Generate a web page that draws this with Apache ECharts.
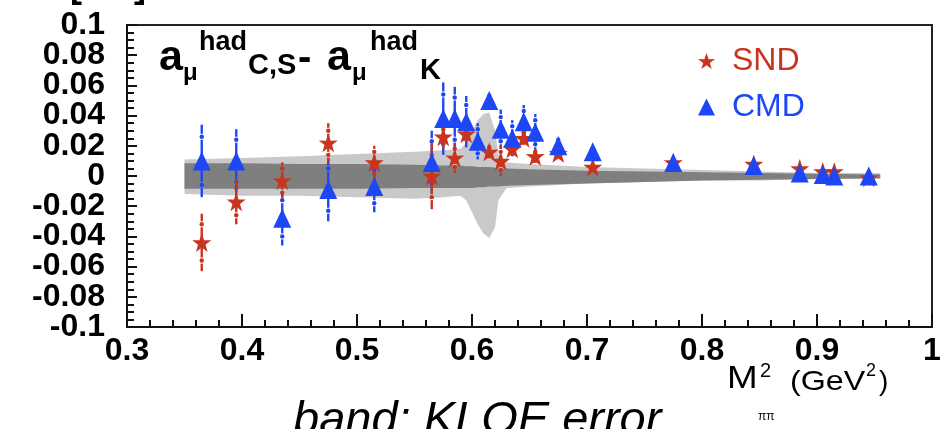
<!DOCTYPE html>
<html>
<head>
<meta charset="utf-8">
<script src="https://cdn.jsdelivr.net/npm/echarts@6/dist/echarts.min.js"></script>
<style>html,body{margin:0;padding:0;background:#fff;}#c{width:945px;height:429px;}</style>
</head>
<body>
<div id="c"></div>
<script>
// ---- data ----
var sndX = [0.365,0.395,0.435,0.475,0.515,0.565,0.575,0.585,0.595,0.615,0.625,0.635,0.645,0.655,0.675,0.705,0.775,0.845,0.885,0.905,0.915,0.945];
var sndY = [-0.044,-0.017,-0.003,0.022,0.009,0.000,0.026,0.012,0.028,0.016,0.010,0.018,0.025,0.013,0.015,0.006,0.009,0.008,0.005,0.003,0.003,-0.001];
var sndErrTot = [0.019,0.015,0.012,0.013,0.011,0.022,0.008,0.010,0.006,0.005,0.010,0.005,0.005,0.005,0.003,0.002,0.002,0.002,0.002,0.001,0.001,0.001];
var sndErrStat = [0.012,0.009,0.008,0.008,0.007,0.014,0.005,0.006,0.004,0.003,0.006,0.003,0.003,0.003,0.002,0.001,0.001,0.001,0.001,0.001,0.001,0.001];

var cmdX = [0.365,0.395,0.435,0.475,0.515,0.565,0.575,0.585,0.595,0.605,0.615,0.625,0.635,0.645,0.655,0.675,0.705,0.775,0.845,0.885,0.905,0.915,0.945];
var cmdY = [0.010,0.010,-0.028,-0.009,-0.007,0.009,0.038,0.038,0.036,0.023,0.050,0.031,0.025,0.036,0.029,0.020,0.016,0.009,0.007,0.002,0.001,0.000,0.000];
var cmdErrTot = [0.024,0.021,0.018,0.021,0.017,0.021,0.024,0.021,0.017,0.012,0.004,0.013,0.012,0.011,0.012,0.006,0.003,0.002,0.002,0.001,0.001,0.001,0.001];
var cmdErrStat = [0.016,0.014,0.012,0.014,0.011,0.014,0.016,0.014,0.011,0.008,0.003,0.008,0.008,0.007,0.008,0.004,0.002,0.001,0.001,0.001,0.001,0.001,0.001];

// KLOE error band
var bandX =        [0.35,  0.40,  0.45,  0.50,  0.55,  0.575, 0.59,  0.595, 0.60,  0.605, 0.61,  0.615, 0.62,  0.623, 0.63,  0.65,  0.70,  0.75,  0.80,  0.85,  0.90,  0.955];
var lightUpper =   [0.011, 0.012, 0.013, 0.0145,0.016, 0.017, 0.018, 0.022, 0.030, 0.037, 0.041, 0.042, 0.030, 0.014, 0.009, 0.008, 0.006, 0.005, 0.004, 0.003, 0.002, 0.002];
var lightLower =   [-0.012,-0.013,-0.013,-0.014,-0.015,-0.014,-0.013,-0.016,-0.024,-0.032,-0.038,-0.041,-0.034,-0.016,-0.008,-0.007,-0.005,-0.004,-0.003,-0.003,-0.002,-0.002];
var darkUpper =    [0.0085,0.0085,0.008, 0.008, 0.0075,0.007, 0.007, 0.0065,0.0065,0.006, 0.006, 0.006, 0.0055,0.005, 0.005, 0.0045,0.0035,0.003, 0.0025,0.002, 0.0015,0.001];
var darkLower =    [-0.0085,-0.0085,-0.0085,-0.0085,-0.008,-0.008,-0.008,-0.008,-0.008,-0.0075,-0.0075,-0.007,-0.007,-0.007,-0.0065,-0.006,-0.005,-0.004,-0.003,-0.0025,-0.002,-0.0015];

var RED = '#c9341f', BLUE = '#1d47f5';
var STAR = 'path://M50,0 L61.8,35.1 L97.6,34.5 L68.8,55.9 L79.4,90.5 L50,69.5 L20.6,90.5 L31.2,55.9 L2.4,34.5 L38.2,35.1 Z';

function errData(xs, ys, et, es){ return xs.map(function(x,i){ return [x, ys[i], et[i], es[i]]; }); }

function errRender(color){
  return function(params, api){
    var x = api.value(0), y = api.value(1), et = api.value(2), es = api.value(3);
    var c = api.coord([x, y]);
    var sT = api.coord([x, y + es]), sB = api.coord([x, y - es]);
    var tT = api.coord([x, y + et]), tB = api.coord([x, y - et]);
    var st = {stroke: color, lineWidth: 2.4};
    var ch = [];
    ch.push({type:'line', shape:{x1:c[0], y1:sT[1]+3, x2:c[0], y2:sB[1]-3}, style: st});
    if (tT[1] < sT[1]-4) ch.push({type:'line', shape:{x1:c[0], y1:tT[1], x2:c[0], y2:sT[1]-3}, style: st});
    if (tB[1] > sB[1]+4) ch.push({type:'line', shape:{x1:c[0], y1:sB[1]+3, x2:c[0], y2:tB[1]}, style: st});
    ch.push({type:'circle', shape:{cx:c[0], cy:sT[1], r:2.2}, style:{fill: color}});
    ch.push({type:'circle', shape:{cx:c[0], cy:sB[1], r:2.2}, style:{fill: color}});
    return {type:'group', children: ch};
  };
}

function bandRender(up, lo, color){
  return function(params, api){
    var pts = [];
    for (var i=0;i<bandX.length;i++) pts.push(api.coord([bandX[i], up[i]]));
    for (var j=bandX.length-1;j>=0;j--) pts.push(api.coord([bandX[j], lo[j]]));
    return {type:'polygon', shape:{points: pts}, style:{fill: color}};
  };
}

var chart = echarts.init(document.getElementById('c'));
var FONT = '"Liberation Sans", Arial, sans-serif';
var yLabel = {fontFamily: FONT, fontWeight: 'bold', fontSize: 32, color: '#000', margin: 22};
chart.setOption({
  animation: false,
  backgroundColor: '#fff',
  grid: {left: 127, right: 13, top: 25, bottom: 102, show: true, borderColor: '#222', borderWidth: 2, backgroundColor: 'transparent'},
  xAxis: {
    type: 'value', min: 0.3, max: 1, interval: 0.1,
    axisLine: {onZero: false, lineStyle: {color: '#111', width: 2}},
    axisTick: {inside: true, length: 13, lineStyle: {color: '#111', width: 2}},
    minorTick: {show: true, splitNumber: 5, length: 7, lineStyle: {color: '#111', width: 2}},
    splitLine: {show: false},
    axisLabel: {fontFamily: FONT, fontWeight: 'bold', fontSize: 32, color: '#000', margin: 8, showMinLabel: true, showMaxLabel: true}
  },
  yAxis: [{
    type: 'value', min: -0.1, max: 0.1, interval: 0.02, position: 'left',
    axisLine: {onZero: false, lineStyle: {color: '#111', width: 2}},
    axisTick: {inside: true, length: 10, lineStyle: {color: '#111', width: 2}},
    minorTick: {show: true, splitNumber: 4, length: 7, lineStyle: {color: '#111', width: 2}},
    splitLine: {show: false},
    axisLabel: Object.assign({showMinLabel: false, showMaxLabel: false}, yLabel)
  }, {
    type: 'value', min: -0.1, max: 0.1, interval: 0.2, position: 'left', offset: 0,
    axisLine: {show: false}, axisTick: {show: false}, splitLine: {show: false},
    axisLabel: Object.assign({showMinLabel: true, showMaxLabel: true}, yLabel)
  }],
  legend: {
    orient: 'vertical', left: 693, top: 40, itemWidth: 17, itemHeight: 17, itemGap: 14,
    textStyle: {fontFamily: FONT, fontSize: 32, lineHeight: 32, padding: [0,0,0,12]},
    data: [
      {name: 'SND', icon: STAR, textStyle: {color: RED}},
      {name: 'CMD', icon: 'triangle', textStyle: {color: BLUE}}
    ]
  },
  series: [
    {type: 'custom', name: 'bandLight', silent: true, z: 1, data: [[0.5, 0]], renderItem: bandRender(lightUpper, lightLower, '#c9c9c9'), clip: true},
    {type: 'custom', name: 'bandDark', silent: true, z: 2, data: [[0.5, 0]], renderItem: bandRender(darkUpper, darkLower, '#7f7f7f'), clip: true},
    {type: 'custom', name: 'cmdErr', z: 3, data: errData(cmdX, cmdY, cmdErrTot, cmdErrStat), renderItem: errRender(BLUE), clip: true},
    {type: 'custom', name: 'sndErr', z: 4, data: errData(sndX, sndY, sndErrTot, sndErrStat), renderItem: errRender(RED), clip: true},
    {type: 'scatter', name: 'SND', z: 5, symbol: STAR, symbolSize: 19, itemStyle: {color: RED, opacity: 1},
      data: sndX.map(function(x,i){return [x, sndY[i]];})},
    {type: 'scatter', name: 'CMD', z: 6, symbol: 'triangle', symbolSize: [18,19], itemStyle: {color: BLUE, opacity: 1},
      data: cmdX.map(function(x,i){return [x, cmdY[i]];})}
  ],
  graphic: [
    {type: 'text', left: 70, top: -31, style: {text: '[ % ]', font: 'bold 36px ' + FONT, fill: '#000'}},
    {type: 'group', children: [
      {type:'text', x:159, y:58, style:{text:'a', font:'bold 43px '+FONT, fill:'#000', verticalAlign:'middle'}},
      {type:'text', x:183, y:73, style:{text:'μ', font:'bold 24px '+FONT, fill:'#000', verticalAlign:'middle'}},
      {type:'text', x:199, y:43, style:{text:'had', font:'bold 27px '+FONT, fill:'#000', verticalAlign:'middle'}},
      {type:'text', x:248, y:66, style:{text:'C,S', font:'bold 29px '+FONT, fill:'#000', verticalAlign:'middle'}},
      {type:'text', x:298, y:59, style:{text:'-', font:'bold 40px '+FONT, fill:'#000', verticalAlign:'middle'}},
      {type:'text', x:327, y:58, style:{text:'a', font:'bold 43px '+FONT, fill:'#000', verticalAlign:'middle'}},
      {type:'text', x:352, y:73, style:{text:'μ', font:'bold 24px '+FONT, fill:'#000', verticalAlign:'middle'}},
      {type:'text', x:370, y:43, style:{text:'had', font:'bold 27px '+FONT, fill:'#000', verticalAlign:'middle'}},
      {type:'text', x:420, y:71, style:{text:'K', font:'bold 29px '+FONT, fill:'#000', verticalAlign:'middle'}}
    ]},
    {type: 'group', children: [
      {type:'text', x:727, y:379, scaleX: 1.15, style:{text:'M', font:'32px '+FONT, fill:'#000', verticalAlign:'middle'}},
      {type:'text', x:760, y:371, style:{text:'2', font:'20px '+FONT, fill:'#000', verticalAlign:'middle'}},
      {type:'text', x:758, y:417, style:{text:'ππ', font:'12px '+FONT, fill:'#000', verticalAlign:'middle'}},
      {type:'text', x:790, y:382, scaleX: 1.15, style:{text:'(GeV', font:'28px '+FONT, fill:'#000', verticalAlign:'middle'}},
      {type:'text', x:866, y:371, style:{text:'2', font:'18px '+FONT, fill:'#000', verticalAlign:'middle'}},
      {type:'text', x:879, y:382, style:{text:')', font:'28px '+FONT, fill:'#000', verticalAlign:'middle'}}
    ]},
    {type:'text', x:293, y:421, style:{text:'band: KLOE error', font:'italic 47px '+FONT, fill:'#000', verticalAlign:'middle'}}
  ]
});
</script>
</body>
</html>
